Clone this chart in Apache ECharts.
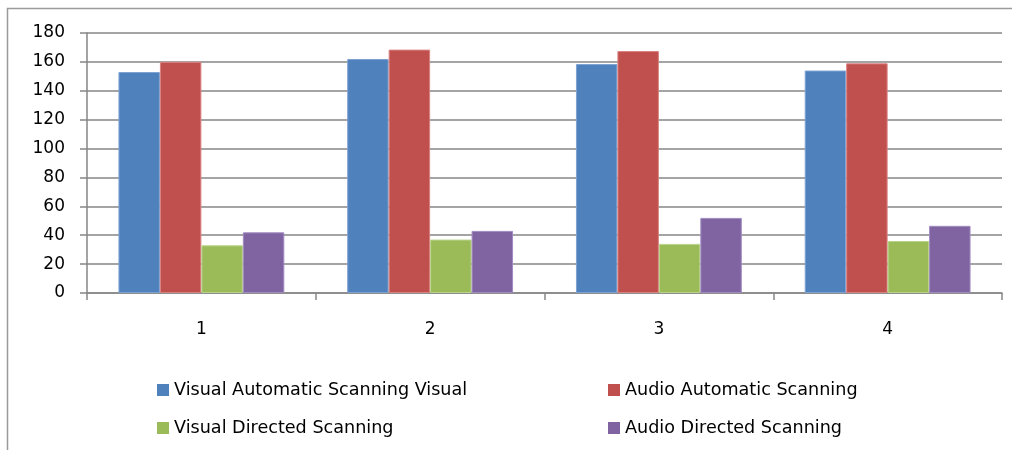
<!DOCTYPE html>
<html>
<head>
<meta charset="utf-8">
<script src="https://cdn.jsdelivr.net/npm/echarts@6/dist/echarts.min.js"></script>
<style>
  html, body { margin: 0; padding: 0; background: #ffffff; }
  #chart { width: 1012px; height: 450px; }
</style>
</head>
<body>
<div id="chart"></div>
<script>
// Trial groups along the x axis
const categories = ['1', '2', '3', '4'];

// Series names and values
const seriesNames = [
  'Visual Automatic Scanning Visual',
  'Audio Automatic Scanning',
  'Visual Directed Scanning',
  'Audio Directed Scanning'
];
const visualAutomatic = [153, 162, 158.5, 154];
const audioAutomatic = [160, 168.5, 167.5, 159];
const visualDirected = [33, 37, 34, 36];
const audioDirected = [42, 43, 52, 46.5];

// Y axis scale
const yMin = 0;
const yMax = 180;
const yStep = 20;

const colors = ['#4F81BD', '#C0504D', '#9BBB59', '#8064A2'];
const borderColors = ['#7ea3d3', '#d98280', '#b9d38a', '#a08bc0'];
const values = [visualAutomatic, audioAutomatic, visualDirected, audioDirected];

const axisGray = '#868686';
const fontFamily = 'DejaVu Sans, sans-serif';

const chart = echarts.init(document.getElementById('chart'), null, { renderer: 'canvas' });

function legendBlock(left, names) {
  return {
    left: left,
    top: 380,
    padding: 0,
    orient: 'vertical',
    itemWidth: 12,
    itemHeight: 12,
    itemGap: 18,
    icon: 'rect',
    itemStyle: { borderWidth: 0 },
    data: names,
    textStyle: { color: '#000000', fontFamily: fontFamily, fontSize: 17.6, lineHeight: 20 }
  };
}

const option = {
  backgroundColor: '#ffffff',
  animation: false,
  color: colors,
  grid: { left: 87, right: 10, top: 33, bottom: 157, containLabel: false },
  xAxis: {
    type: 'category',
    data: categories,
    axisLine: { show: true, lineStyle: { color: axisGray, width: 1.5 } },
    axisTick: { show: true, alignWithLabel: false, length: 7, lineStyle: { color: axisGray, width: 1.5 } },
    axisLabel: { color: '#000000', fontFamily: fontFamily, fontSize: 17, margin: 28 },
    splitLine: { show: false }
  },
  yAxis: {
    type: 'value',
    min: yMin,
    max: yMax,
    interval: yStep,
    axisLine: { show: true, lineStyle: { color: axisGray, width: 1.5 } },
    axisTick: { show: true, length: 7, lineStyle: { color: axisGray, width: 1.5 } },
    axisLabel: { color: '#000000', fontFamily: fontFamily, fontSize: 17, margin: 22 },
    splitLine: { show: true, lineStyle: { color: axisGray, width: 1.5 } }
  },
  legend: [
    legendBlock(157, [seriesNames[0], seriesNames[2]]),
    legendBlock(608, [seriesNames[1], seriesNames[3]])
  ],
  series: seriesNames.map((name, i) => ({
    name: name,
    type: 'bar',
    data: values[i],
    barGap: '0%',
    barCategoryGap: '27.5%',
    itemStyle: { color: colors[i], borderColor: borderColors[i], borderWidth: 1 }
  })),
  graphic: [
    {
      type: 'polyline',
      shape: { points: [[7.5, 450], [7.5, 8.5], [1012, 8.5]] },
      style: { stroke: '#9a9a9a', lineWidth: 1.5, fill: null },
      silent: true
    }
  ]
};

chart.setOption(option);
</script>
</body>
</html>
